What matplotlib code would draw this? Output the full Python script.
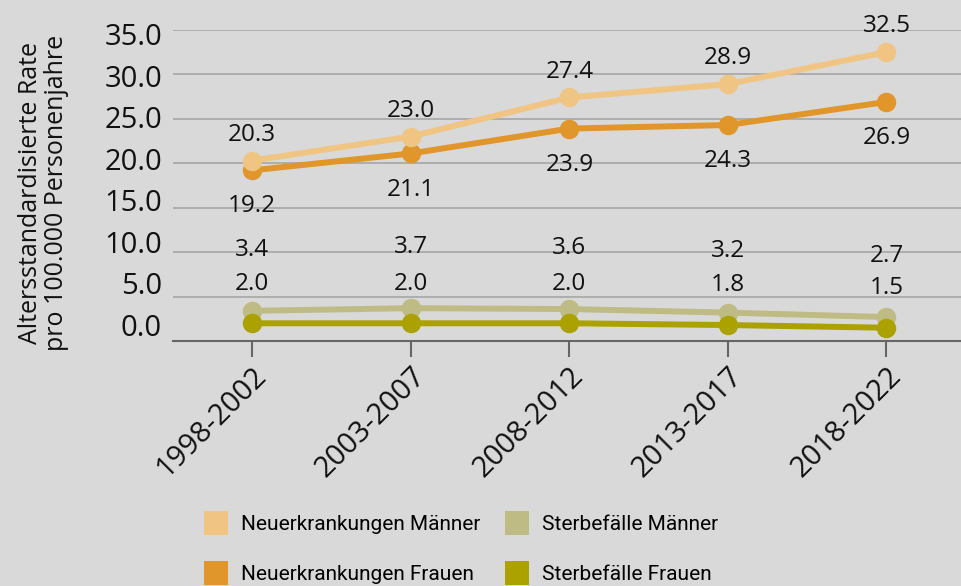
import matplotlib
matplotlib.use("Agg")
import matplotlib.pyplot as plt
from matplotlib.patches import Patch
from matplotlib.transforms import blended_transform_factory

periods = ["1998-2002", "2003-2007", "2008-2012", "2013-2017", "2018-2022"]
neu_maenner = [20.3, 23.0, 27.4, 28.9, 32.5]
neu_frauen = [19.2, 21.1, 23.9, 24.3, 26.9]
sterbe_maenner = [3.4, 3.7, 3.6, 3.2, 2.7]
sterbe_frauen = [2.0, 2.0, 2.0, 1.8, 1.5]
yticks = [0, 5, 10, 15, 20, 25, 30, 35]

bg = "#d9d9d9"
c_nm = "#f0c584"
c_nf = "#e0962a"
c_sm = "#bfbb84"
c_sf = "#aba200"

plt.rcParams["font.family"] = ["Open Sans", "DejaVu Sans"]

fig = plt.figure(figsize=(9.61, 5.86), dpi=100, facecolor=bg)
ax = fig.add_axes([0.18, 0.418, 0.82, 0.531])
ax.set_facecolor(bg)

x = list(range(len(periods)))
# draw order: lower series first
series = [
    (sterbe_maenner, c_sm, 44),
    (sterbe_frauen, c_sf, 28.5),
    (neu_frauen, c_nf, -26),
    (neu_maenner, c_nm, 18.5),
]
for vals, col, off in series:
    ax.plot(x, vals, color=col, lw=4.3, marker="o", ms=13, clip_on=False, zorder=3)
    for xi, v in zip(x, vals):
        ax.annotate(f"{v:.1f}", (xi, v), xytext=(0, off), textcoords="offset points",
                    ha="center", va="center", fontsize=17.5, color="#111111")

ax.set_xlim(-0.5, 4.47)
ax.set_ylim(0, 35)
ax.set_yticks(yticks)
ax.set_yticklabels([])
# y labels sit slightly compressed relative to the grid, as in the original
tr = blended_transform_factory(ax.transAxes, ax.transData)
for t in yticks:
    ax.text(-0.014, t * 0.9326 + 1.46, f"{t:.1f}", transform=tr, ha="right",
            va="center", fontsize=21, color="#111111")
ax.set_xticks(x)
ax.set_xticklabels(periods, rotation=45, ha="right", rotation_mode="anchor",
                   fontsize=21, color="#111111")
ax.tick_params(axis="y", length=0)
ax.tick_params(axis="x", length=11.5, width=1.5, color="#666666", pad=3)
ax.grid(axis="y", color="#a6a6a6", lw=1.2)
ax.set_axisbelow(True)
for s in ["top", "right", "left"]:
    ax.spines[s].set_visible(False)
ax.spines["bottom"].set_color("#666666")
ax.spines["bottom"].set_linewidth(1.5)

fig.text(0.045, 0.67, "Altersstandardisierte Rate\npro 100.000 Personenjahre", fontsize=18,
         color="#111111", linespacing=1.05, rotation=90, ha="center", va="center")

handles = [
    Patch(facecolor=c_nm, label="Neuerkrankungen Männer"),
    Patch(facecolor=c_nf, label="Neuerkrankungen Frauen"),
    Patch(facecolor=c_sm, label="Sterbefälle Männer"),
    Patch(facecolor=c_sf, label="Sterbefälle Frauen"),
]
fig.legend(handles=handles, ncol=2, loc="upper left", bbox_to_anchor=(0.193, 0.16),
           frameon=False, handlelength=1.15, handleheight=1.4,
           handletextpad=0.6, columnspacing=1.2, labelspacing=1.25,
           prop={"family": ["Roboto"], "size": 15})

fig.savefig("out.png", dpi=100, facecolor=bg)
